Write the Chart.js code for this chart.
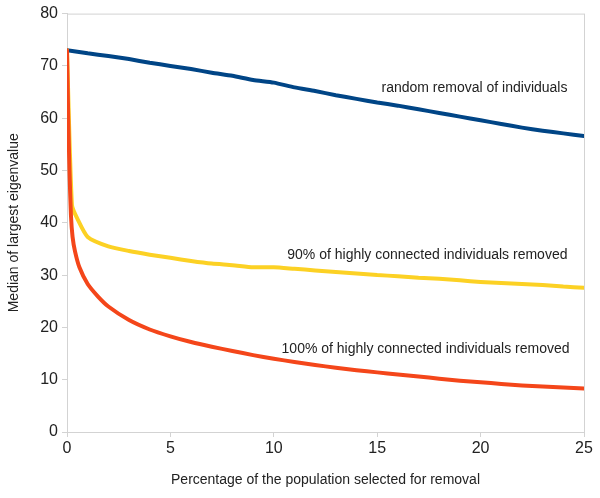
<!DOCTYPE html>
<html>
<head>
<meta charset="utf-8">
<script src="https://cdn.jsdelivr.net/npm/chart.js@4"></script>
<style>
  html, body { margin: 0; padding: 0; background: #fff; }
  #wrap { width: 600px; height: 498px; }
</style>
</head>
<body>
<div id="wrap"><canvas id="chart" width="600" height="498"></canvas></div>
<script>
const randomX = [0, 1, 2, 3, 4, 5, 6, 7, 8, 9, 10, 11, 12, 13, 14, 15, 16, 17, 18, 19, 20, 21, 22, 23, 24, 25];
const randomY = [73, 72.4, 71.9, 71.3, 70.6, 70.0, 69.4, 68.7, 68.1, 67.3, 66.8, 65.9, 65.2, 64.4, 63.7, 63.0, 62.4, 61.7, 61.0, 60.3, 59.6, 58.9, 58.2, 57.6, 57.1, 56.6];

const partialX = [0, 0.24, 0.5, 1, 2, 3, 4, 5, 6, 7, 8, 9, 10, 11, 12, 13, 14, 15, 16, 17, 18, 19, 20, 21, 22, 23, 24, 25];
const partialY = [73, 43.4, 40.8, 37.3, 35.5, 34.6, 33.9, 33.3, 32.7, 32.2, 31.9, 31.5, 31.5, 31.2, 30.9, 30.6, 30.3, 30.0, 29.8, 29.5, 29.3, 29.0, 28.7, 28.5, 28.3, 28.1, 27.8, 27.6];

const fullX = [0, 0.06, 0.12, 0.19, 0.27, 0.39, 0.6, 1, 1.5, 2, 3, 4, 5, 6, 7, 8, 9, 10, 11, 12, 13, 14, 15, 16, 17, 18, 19, 20, 21, 22, 23, 24, 25];
const fullY = [73, 60, 50, 41.5, 37.3, 34.5, 31.5, 28.3, 25.9, 24.0, 21.4, 19.6, 18.3, 17.2, 16.3, 15.5, 14.7, 14.0, 13.4, 12.8, 12.3, 11.8, 11.4, 11.0, 10.6, 10.2, 9.8, 9.5, 9.2, 8.9, 8.7, 8.5, 8.3];

const seriesNames = [
  "100% of highly connected individuals removed",
  "90% of highly connected individuals removed",
  "random removal of individuals",
];

// where the text labels sit, in data units (right edge of the text)
const labelSpots = [
  { text: "random removal of individuals", x: 24.2, y: 65.8 },
  { text: "90% of highly connected individuals removed", x: 24.2, y: 33.9 },
  { text: "100% of highly connected individuals removed", x: 24.3, y: 15.9 },
];

const FONT = "'Liberation Sans', Arial, sans-serif";

const toPoints = (xs, ys) => xs.map((x, i) => ({ x, y: ys[i] }));

const frame = {
  id: "frame",
  beforeDatasetsDraw(chart) {
    const { ctx, chartArea } = chart;
    ctx.save();
    ctx.strokeStyle = "#d3d3d3";
    ctx.lineWidth = 1;
    ctx.strokeRect(chartArea.left + 0.5, chartArea.top + 0.5, chartArea.right - chartArea.left, chartArea.bottom - chartArea.top);
    ctx.restore();
  },
};

const curveLabels = {
  id: "curveLabels",
  afterDatasetsDraw(chart) {
    const { ctx, scales } = chart;
    ctx.save();
    ctx.font = "14px " + FONT;
    ctx.fillStyle = "#222";
    ctx.textAlign = "right";
    ctx.textBaseline = "middle";
    labelSpots.forEach((l) => {
      ctx.fillText(l.text, scales.x.getPixelForValue(l.x), scales.y.getPixelForValue(l.y));
    });
    ctx.restore();
  },
};

new Chart(document.getElementById("chart").getContext("2d"), {
  type: "line",
  data: {
    datasets: [
      {
        label: seriesNames[0],
        data: toPoints(fullX, fullY),
        borderColor: "#f4461a",
        borderWidth: 4,
      },
      {
        label: seriesNames[1],
        data: toPoints(partialX, partialY),
        borderColor: "#fcd124",
        borderWidth: 4,
      },
      {
        label: seriesNames[2],
        data: toPoints(randomX, randomY),
        borderColor: "#004586",
        borderWidth: 4,
      },
    ],
  },
  options: {
    responsive: false,
    animation: false,
    elements: {
      point: { radius: 0 },
      line: { tension: 0.2, borderCapStyle: "round", borderJoinStyle: "round" },
    },
    layout: { padding: { top: 10, right: 16, left: 0, bottom: 0 } },
    plugins: {
      legend: { display: false },
      tooltip: { enabled: false },
    },
    scales: {
      x: {
        type: "linear",
        min: 0,
        max: 25,
        afterFit: (scale) => { scale.height = 66; },
        ticks: {
          stepSize: 5,
          padding: 2,
          color: "#222",
          font: { family: FONT, size: 16 },
        },
        grid: { drawOnChartArea: false, tickLength: 5, color: "#d3d3d3" },
        border: { color: "#d3d3d3" },
        title: {
          display: true,
          text: "Percentage of the population selected for removal",
          color: "#222",
          padding: { top: 0, bottom: 9 },
          font: { family: FONT, size: 14 },
        },
      },
      y: {
        min: 0,
        max: 80,
        afterFit: (scale) => { scale.width = 67; },
        ticks: {
          stepSize: 10,
          padding: 4,
          color: "#222",
          font: { family: FONT, size: 16 },
        },
        grid: { drawOnChartArea: false, tickLength: 5, color: "#d3d3d3" },
        border: { color: "#d3d3d3" },
        title: {
          display: true,
          text: "Median of largest eigenvalue",
          color: "#222",
          padding: { top: 6, bottom: 0 },
          font: { family: FONT, size: 14 },
        },
      },
    },
  },
  plugins: [frame, curveLabels],
});
</script>
</body>
</html>
